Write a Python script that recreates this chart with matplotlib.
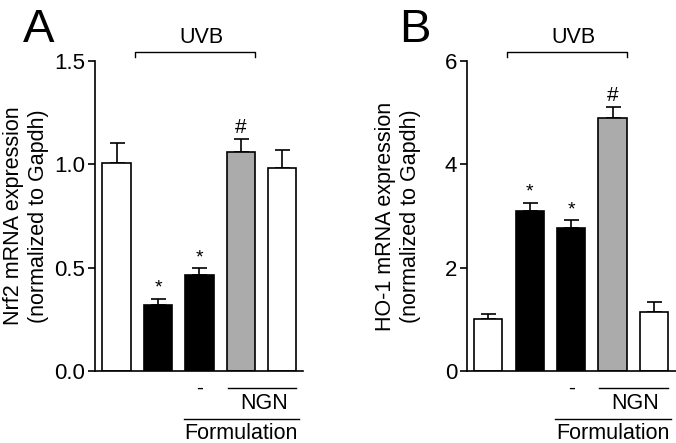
import numpy as np
import matplotlib
matplotlib.use("Agg")
import matplotlib.pyplot as plt

plt.rcParams['font.family'] = ['Liberation Sans', 'DejaVu Sans']

# データ
groups = ["Control", "UVB", "UVB+Formulation", "UVB+Formulation NGN", "NGN"]
nrf2_mean = [1.005, 0.32, 0.464, 1.061, 0.98]
nrf2_sem = [0.10, 0.03, 0.033, 0.061, 0.091]
ho1_mean = [1.006, 3.097, 2.76, 4.897, 1.148]
ho1_sem = [0.091, 0.163, 0.16, 0.218, 0.181]
bar_colors = ["white", "black", "black", "#ababab", "white"]
marks = ["", "*", "*", "#", ""]

fig = plt.figure(figsize=(6.76, 4.43), dpi=100)

def panel(ax, mean, sem, ylim, yticks, yticklabels, ylabel, xlim, ytop_off, width_px):
    x = np.arange(len(mean))
    ax.bar(x, mean, width=0.68, color=bar_colors, edgecolor="black", linewidth=1.2, zorder=2)
    ax.errorbar(x, mean, yerr=[np.zeros(len(sem)), sem], fmt="none", ecolor="black",
                elinewidth=1.2, capsize=5.4, capthick=1.2, zorder=1)
    for xi, m, s, mk in zip(x, mean, sem, marks):
        if mk:
            fs = 14 if mk == "*" else 15
            ax.text(xi, m + s + ytop_off, mk, ha="center", va="bottom", fontsize=fs)
    ax.set_xlim(*xlim)
    ax.set_ylim(*ylim)
    ax.set_yticks(yticks)
    ax.set_yticklabels(yticklabels)
    ax.set_xticks([])
    ax.spines["top"].set_visible(False)
    ax.spines["right"].set_visible(False)
    ax.spines["left"].set_linewidth(1.2)
    ax.spines["bottom"].set_linewidth(1.2)
    ax.tick_params(axis="y", direction="out", length=5, width=1.2, labelsize=16, pad=2)
    ax.set_ylabel(ylabel, fontsize=15.5, linespacing=1.25)
    ax.yaxis.label.set_va("center")
    ax.yaxis.set_label_coords(-69 / width_px, 0.5)

    tr = ax.get_xaxis_transform()
    # UVB bracket
    ax.plot([1 - 0.55, 1 - 0.55, 3 + 0.34, 3 + 0.34], [1.013, 1.03, 1.03, 1.013],
            color="black", lw=1.0, transform=tr, clip_on=False)
    ax.text(2.05, 1.058, "UVB", ha="center", va="baseline", fontsize=15.5, transform=tr)
    # 下のラベル
    ax.text(2, -0.055, "-", ha="center", va="center", fontsize=15, transform=tr)
    ax.plot([3 - 0.32, 4 + 0.34], [-0.055, -0.055], color="black", lw=1.0,
            transform=tr, clip_on=False)
    ax.text(3.55, -0.105, "NGN", ha="center", va="center", fontsize=15.5, transform=tr)
    ax.plot([2 - 0.38, 4 + 0.4], [-0.155, -0.155], color="black", lw=1.0,
            transform=tr, clip_on=False)
    ax.text(3.0, -0.218, "Formulation", ha="center", va="baseline", fontsize=15.5, transform=tr)

ax1 = fig.add_axes([95/676, 72/443, 208/676, 310/443])
panel(ax1, nrf2_mean, nrf2_sem, (0, 1.5), [0, 0.5, 1.0, 1.5], ["0.0", "0.5", "1.0", "1.5"],
      "Nrf2 mRNA expression\n(normalized to Gapdh)", (-0.52, 4.5), 0.01, 208)

ax2 = fig.add_axes([467/676, 72/443, 209/676, 310/443])
panel(ax2, ho1_mean, ho1_sem, (0, 6), [0, 2, 4, 6], ["0", "2", "4", "6"],
      "HO-1 mRNA expression\n(normalized to Gapdh)", (-0.51, 4.53), 0.04, 209)

# パネル記号
fig.text(23/676, 1 - 42/443, "A", ha="left", va="baseline", fontsize=34)
fig.text(399/676, 1 - 42/443, "B", ha="left", va="baseline", fontsize=34)

fig.savefig("out.png", dpi=100)
